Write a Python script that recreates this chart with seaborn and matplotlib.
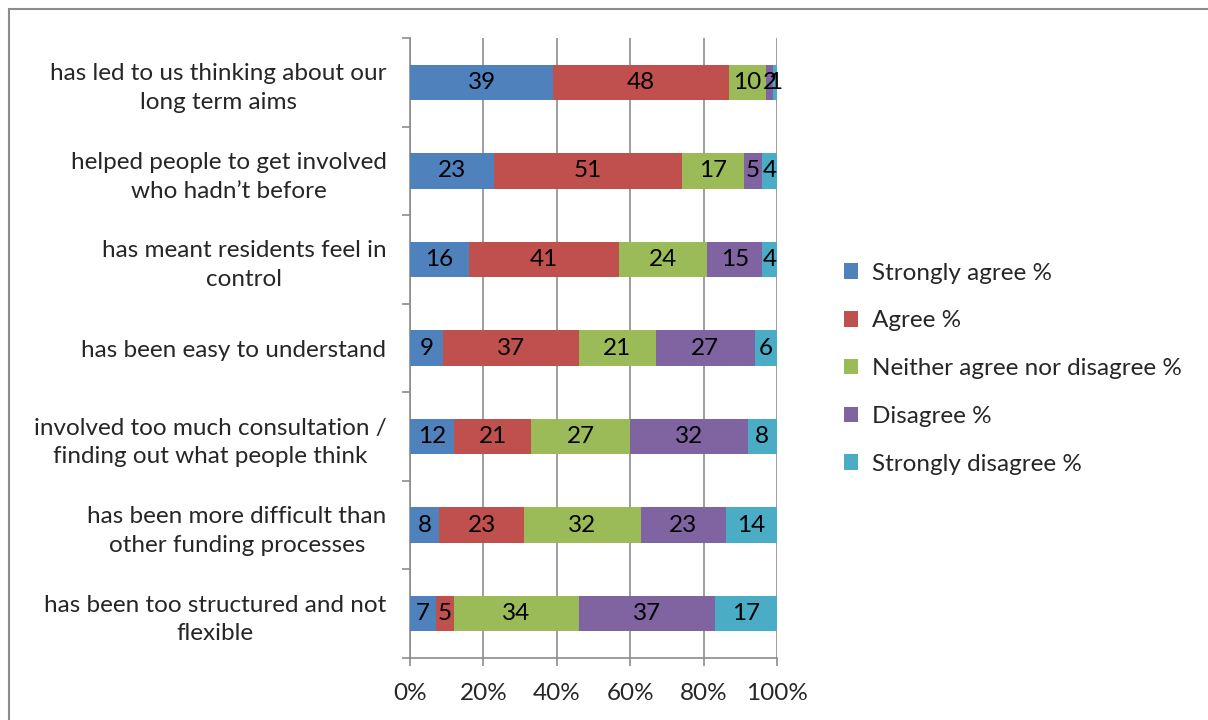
import numpy as np
import pandas as pd
import seaborn as sns
import matplotlib.pyplot as plt
from matplotlib.patches import Rectangle, Patch

statements = [
    "has led to us thinking about our\nlong term aims",
    "helped people to get involved\nwho hadn\u2019t before",
    "has meant residents feel in\ncontrol",
    "has been easy to understand",
    "involved too much consultation /\nfinding out what people think",
    "has been more difficult than\nother funding processes",
    "has been too structured and not\nflexible",
]
series = ["Strongly agree %", "Agree %", "Neither agree nor disagree %",
          "Disagree %", "Strongly disagree %"]
strongly_agree = [39, 23, 16, 9, 12, 8, 7]
agree = [48, 51, 41, 37, 21, 23, 5]
neither = [10, 17, 24, 21, 27, 32, 34]
disagree = [2, 5, 15, 27, 32, 23, 37]
strongly_disagree = [1, 4, 4, 6, 8, 14, 17]
colors = ["#4F81BD", "#C0504D", "#9BBB59", "#8064A2", "#4BACC6"]

sns.set_theme(style="white")
plt.rcParams['font.family'] = ['Lato', 'DejaVu Sans']
FS = 17.5

values = np.array([strongly_agree, agree, neither, disagree, strongly_disagree], dtype=float)
cum = values.cumsum(axis=0)

fig = plt.figure(figsize=(12.08, 7.2), dpi=100)
ax = fig.add_axes([410 / 1208, 1 - 658 / 720, 367 / 1208, 620 / 720])

# stacked bars: draw cumulative totals from the last series back to the first
for i in range(len(series) - 1, -1, -1):
    df = pd.DataFrame({"statement": statements, "value": cum[i]})
    sns.barplot(data=df, x="value", y="statement", orient="h", color=colors[i],
                saturation=1, width=0.4, linewidth=0, ax=ax, zorder=3)

# data labels
for i in range(len(series)):
    for j in range(len(statements)):
        left = cum[i][j] - values[i][j]
        ax.text(left + values[i][j] / 2, j, f"{int(values[i][j])}",
                ha="center", va="center", fontsize=FS, color="black", zorder=4)

ax.set_xlim(0, 100)
ax.set_ylim(len(statements) - 0.5, -0.5)
ax.set_xticks(np.arange(0, 101, 20))
ax.set_xticklabels([f"{t}%" for t in range(0, 101, 20)], fontsize=FS)
ax.set_xlabel("")
ax.set_ylabel("")
ax.grid(axis="x", color="#8c8c8c", linewidth=1.2, zorder=0)
ax.grid(axis="y", visible=False)

ax.set_yticks(range(len(statements)))
ax.set_yticklabels(statements, fontsize=FS, multialignment="center", linespacing=1.45)
ax.tick_params(axis="y", which="major", length=0, pad=17)
ax.set_yticks(np.arange(-0.5, len(statements), 1), minor=True)
ax.tick_params(axis="y", which="minor", length=6, width=1.2, color="#8c8c8c", left=True)
ax.tick_params(axis="x", which="major", length=6, width=1.2, color="#8c8c8c",
               bottom=True, pad=12)

for side in ["top", "right"]:
    ax.spines[side].set_visible(False)
for side in ["left", "bottom"]:
    ax.spines[side].set_color("#8c8c8c")
    ax.spines[side].set_linewidth(1.2)

handles = [Patch(facecolor=c, edgecolor="none") for c in colors]
fig.legend(handles, series, loc="upper left", bbox_to_anchor=(834 / 1208, 1 - 253 / 720),
           frameon=False, fontsize=FS, handlelength=0.6, handleheight=0.6,
           handletextpad=0.55, labelspacing=1.1, borderaxespad=0)

fig.add_artist(Rectangle((9 / 1208, -0.1), 1.2, 1 - 9 / 720 + 0.1,
                         transform=fig.transFigure, fill=False,
                         edgecolor="#8c8c8c", linewidth=1.5))

fig.savefig("out.png", dpi=100)
